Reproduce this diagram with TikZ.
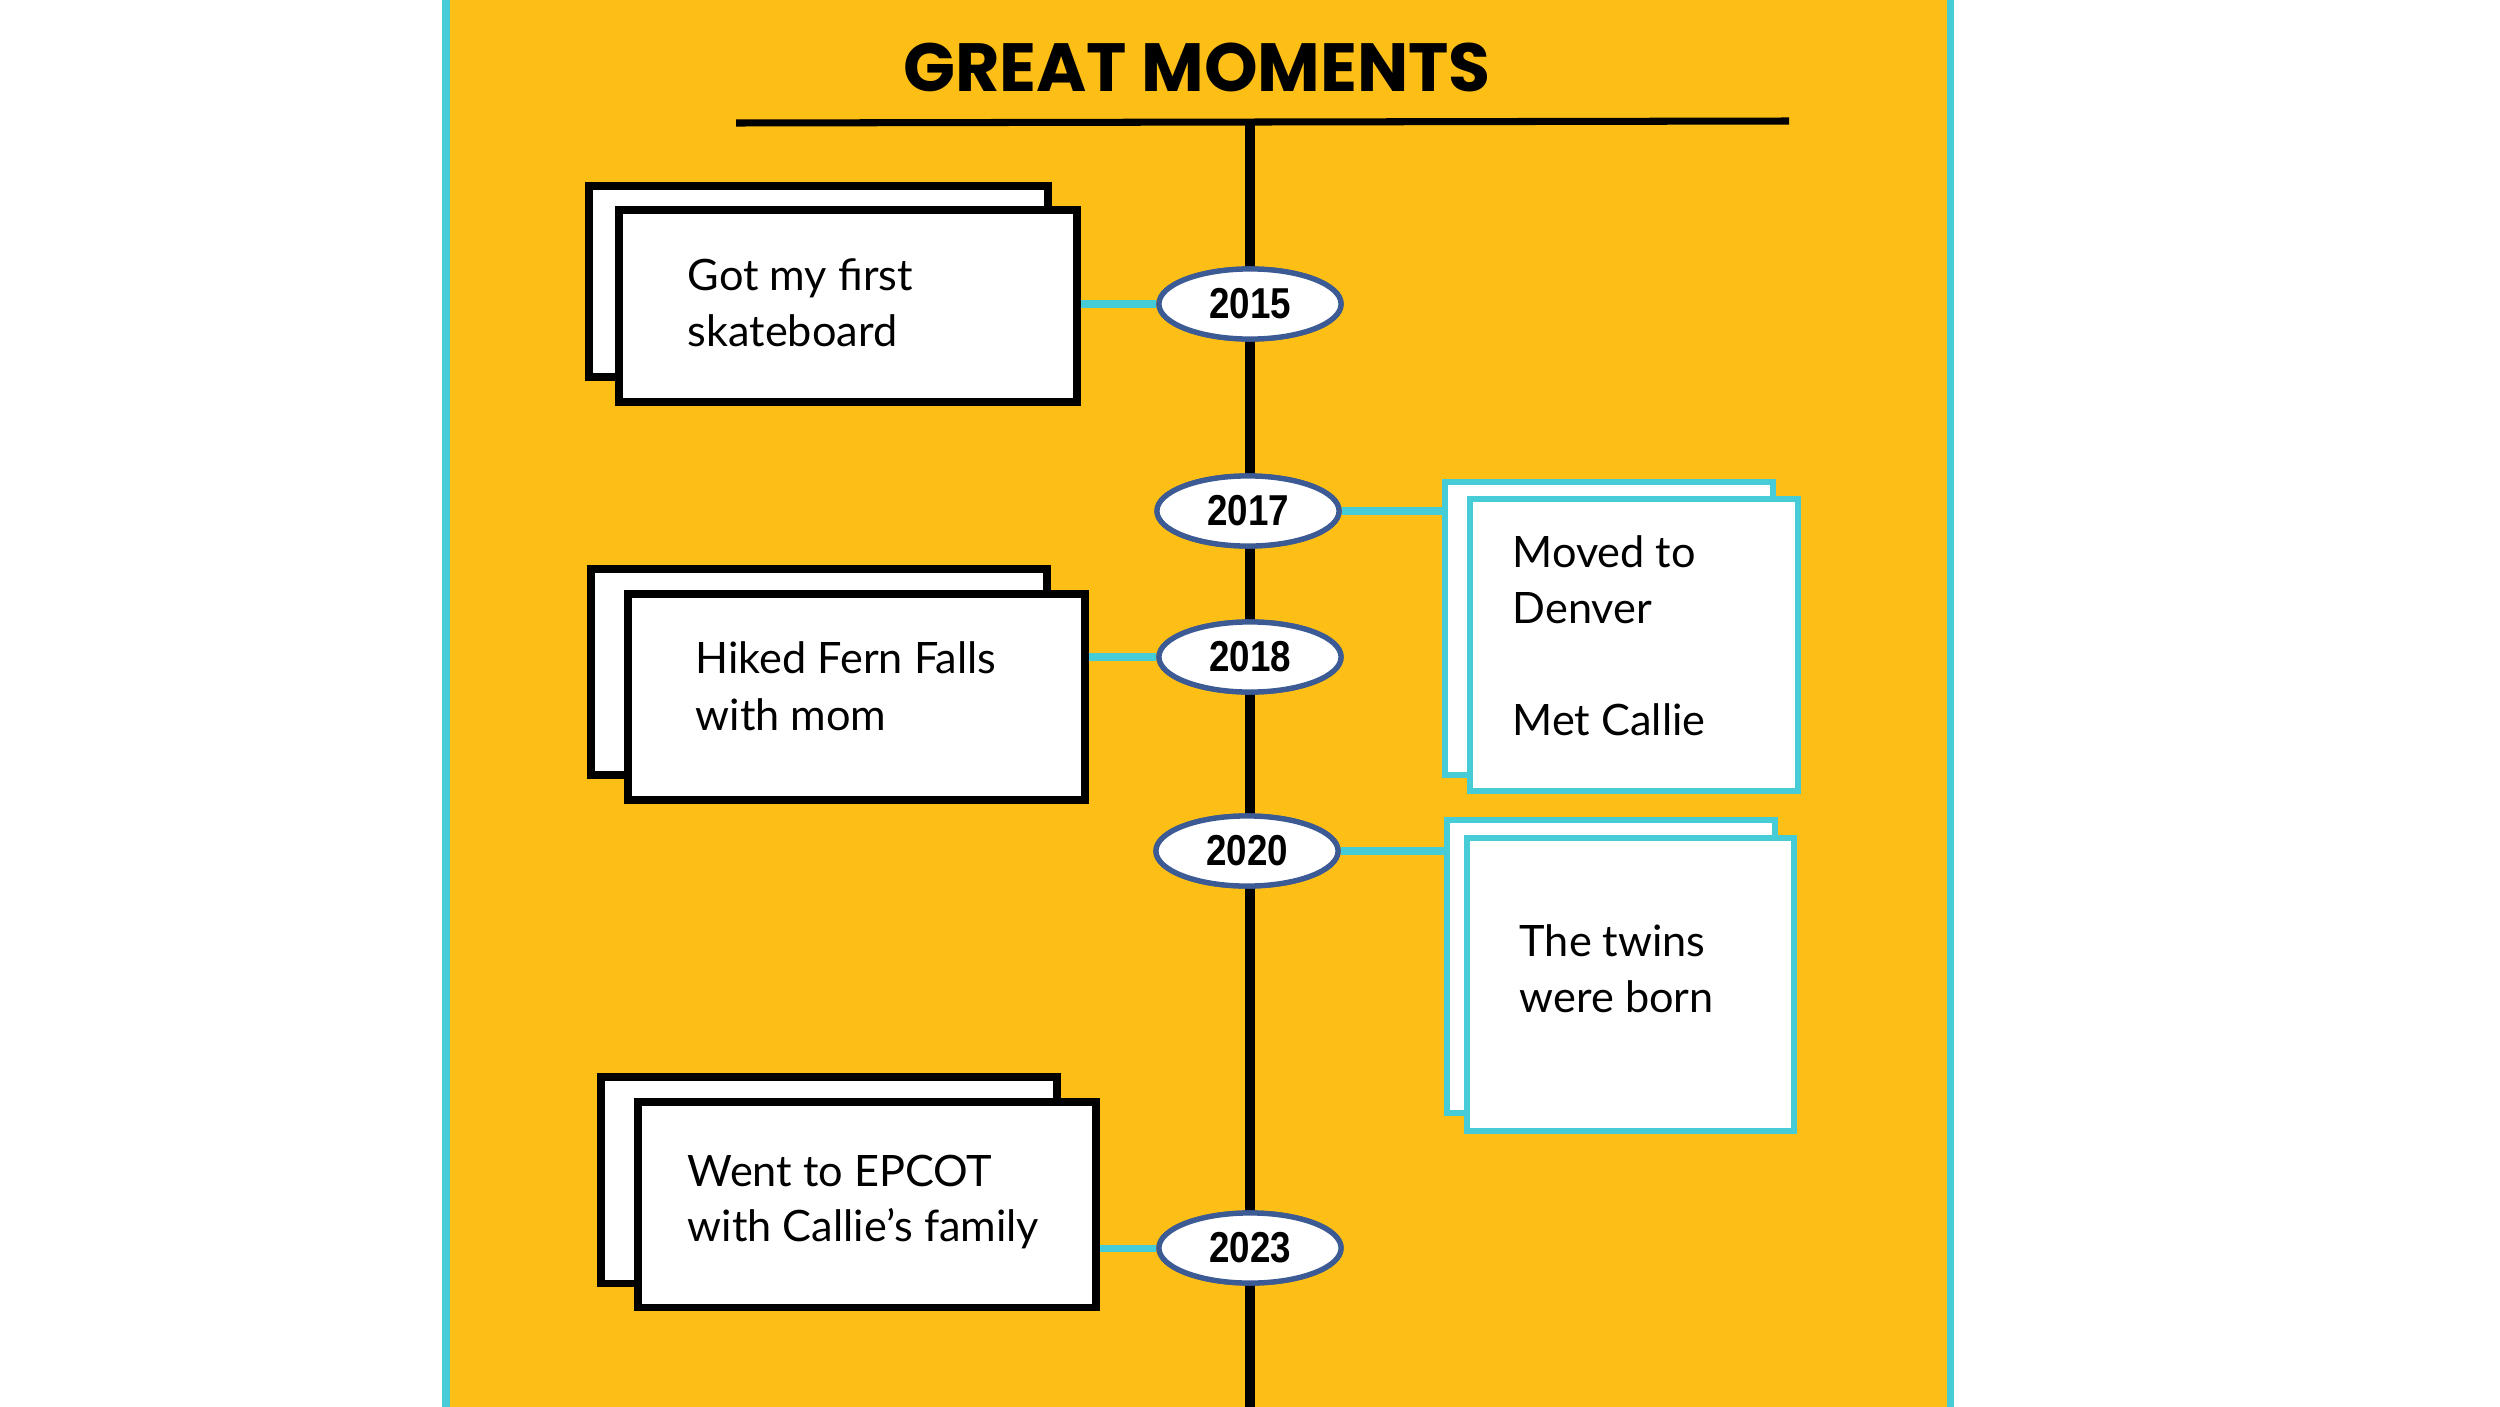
\documentclass[tikz,border=0pt]{standalone}
\usepackage{fontspec}
\usetikzlibrary{shapes.geometric,fit}
\setmainfont{Lato}
\newfontfamily\titlefont{Poppins}
\newfontfamily\yearfont[FakeStretch=0.85]{Liberation Sans}
\definecolor{panelyellow}{HTML}{FDBF16}
\definecolor{tlcyan}{HTML}{45CCD6}
\definecolor{ellblue}{HTML}{3C5B94}
\tikzset{
  evbox/.style={draw=black, line width=2pt, fill=white, inner sep=0pt},
  cybox/.style={draw=tlcyan, line width=1.8pt, fill=white, inner sep=0pt},
  yearnode/.style={ellipse, draw=ellblue, line width=1.5pt, fill=white, inner sep=0pt,
    minimum width=1.82cm, minimum height=0.70cm, font=\yearfont\bfseries\fontsize{12.3}{12.3}\selectfont},
  link/.style={draw=tlcyan, line width=2pt},
  evtext/.style={anchor=base west, inner sep=0pt, font=\fontsize{12.3}{14}\selectfont}
}
\begin{document}
\begin{tikzpicture}[x=0.01cm, y=-0.01cm]
\useasboundingbox (0,0) rectangle (2500,1406);
\fill[white] (0,0) rectangle (2500,1406);
% panel
\fill[panelyellow] (446,-10) rectangle (1950,1416);
\draw[tlcyan, line width=2pt] (446,-10) -- (446,1416);
\draw[tlcyan, line width=2pt] (1950,-10) -- (1950,1416);
% title
\node[anchor=base, inner sep=0pt, font=\titlefont\bfseries\fontsize{19.4}{19.4}\selectfont] (title) at (1197,91) {GREAT MOMENTS};
\coordinate (tl) at (736,123);
\coordinate (tr) at (1789,121);
\draw[black, line width=2pt] (tl) -- (tr);
% timeline
\coordinate (ttop) at (1250,122);
\coordinate (tbot) at (1250,1420);
\draw[black, line width=2.9pt] (ttop) -- (tbot);
% year nodes (placed first for connectors, redrawn later on top)
\path (1250,304) node[yearnode] (y15) {}
      (1248,511) node[yearnode] (y17) {}
      (1250,657) node[yearnode] (y18) {}
      (1247,851) node[yearnode] (y20) {}
      (1250,1248) node[yearnode] (y23) {};
% boxes
\node[evbox, fit={(589,186)(1048,377)}] (b1b) {};
\node[evbox, fit={(619,210)(1077,402)}] (b1f) {};
\node[evbox, fit={(591,569)(1047,775)}] (b2b) {};
\node[evbox, fit={(628,594)(1085,800)}] (b2f) {};
\node[evbox, fit={(601,1077)(1057,1283)}] (b3b) {};
\node[evbox, fit={(638,1102)(1096,1307)}] (b3f) {};
\node[cybox, fit={(1445,482)(1773,775)}] (b4b) {};
\node[cybox, fit={(1470,499)(1798,791)}] (b4f) {};
\node[cybox, fit={(1447,820)(1775,1113)}] (b5b) {};
\node[cybox, fit={(1467,838)(1794,1131)}] (b5f) {};
% connectors
\draw[link] (y15.west) -- (y15.west -| b1f.east);
\draw[link] (y18.west) -- (y18.west -| b2f.east);
\draw[link] (y23.west) -- (y23.west -| b3f.east);
\draw[link] (y17.east) -- (y17.east -| b4b.west);
\draw[link] (y20.east) -- (y20.east -| b5b.west);
% year nodes on top
\node[yearnode] (y15t) at (y15) {2015};
\node[yearnode] (y17t) at (y17) {2017};
\node[yearnode] (y18t) at (y18) {2018};
\node[yearnode] (y20t) at (y20) {2020};
\node[yearnode] (y23t) at (y23) {2023};
% texts
\node[evtext] (t1a) at (687,290) {Got my first};
\node[evtext] (t1b) at (687,346) {skateboard};
\node[evtext] (t2a) at (695,673) {Hiked Fern Falls};
\node[evtext] (t2b) at (695,730) {with mom};
\node[evtext] (t3a) at (687,1186) {Went to EPCOT};
\node[evtext] (t3b) at (687,1241) {with Callie’s family};
\node[evtext] (t4a) at (1512,567) {Moved to};
\node[evtext] (t4b) at (1512,623) {Denver};
\node[evtext] (t4c) at (1512,735) {Met Callie};
\node[evtext] (t5a) at (1519,956) {The twins};
\node[evtext] (t5b) at (1519,1012) {were born};
\end{tikzpicture}
\end{document}
